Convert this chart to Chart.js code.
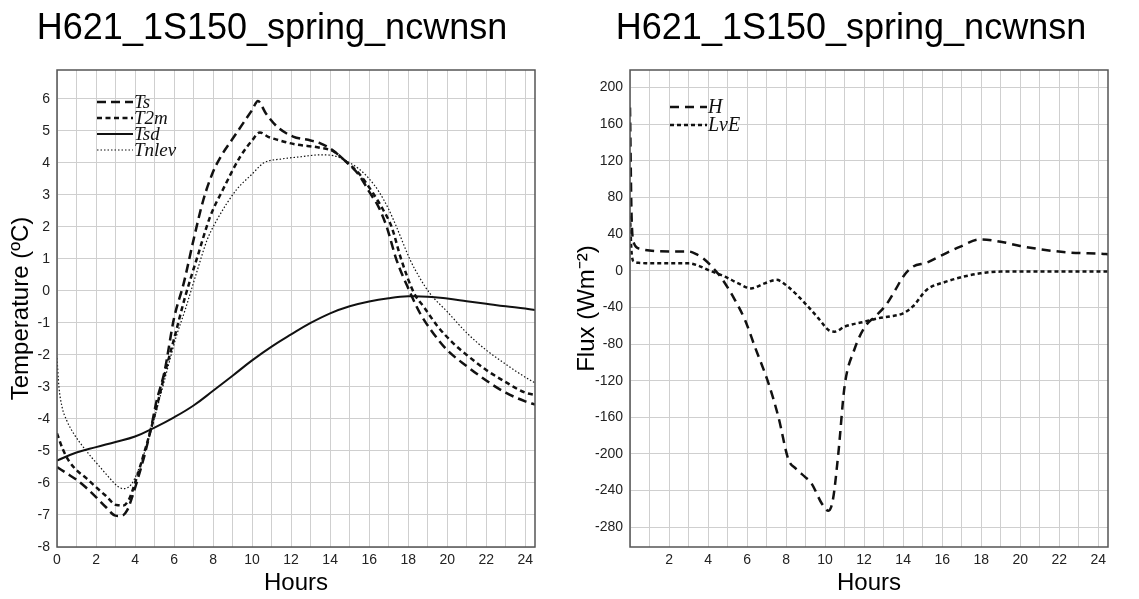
<!DOCTYPE html>
<html>
<head>
<meta charset="utf-8">
<script src="https://cdn.jsdelivr.net/npm/chart.js@4.4.1/dist/chart.umd.min.js"></script>
<style>
    html, body { margin: 0; padding: 0; background: #fff; }
    body { width: 1139px; height: 599px; position: relative; overflow: hidden; }
    #leftBox { position: absolute; left: 0; top: 0; width: 544px; height: 599px; }
    #rightBox { position: absolute; left: 563px; top: 0; width: 576px; height: 599px; }
</style>
</head>
<body>
<div id="leftBox"><canvas id="tempChart" width="544" height="599"></canvas></div>
<div id="rightBox"><canvas id="fluxChart" width="576" height="599"></canvas></div>

<script>
// 1. DATA (hours / values)
const chartTitle = 'H621_1S150_spring_ncwnsn';

const tsHours = [0, 0.5, 1, 1.5, 2, 2.5, 3, 3.3, 3.6, 3.9, 4.2, 4.5, 4.8, 5.1, 5.5, 6, 6.5, 7, 7.5, 8, 8.4, 9, 9.5, 10, 10.3, 10.7, 11.3, 12.1, 13, 13.5, 14, 14.7, 15.5, 16, 16.5, 16.9, 17.4, 18.1, 18.6, 19.2, 20, 21, 22, 23, 24, 24.5];
const tsTemp  = [-5.5, -5.7, -5.9, -6.15, -6.44, -6.75, -7.02, -7.03, -6.85, -6.35, -5.75, -5.1, -4.34, -3.45, -2.55, -0.85, 0.25, 1.6, 2.84, 3.72, 4.2, 4.75, 5.2, 5.65, 5.93, 5.55, 5.12, 4.82, 4.7, 4.61, 4.45, 4.1, 3.6, 3.1, 2.6, 2.0, 0.97, -0.05, -0.69, -1.25, -1.85, -2.35, -2.8, -3.18, -3.45, -3.55];

const t2mHours = [0, 0.3, 0.6, 1, 1.5, 2, 2.5, 3.05, 3.4, 3.7, 4.0, 4.4, 4.8, 5.2, 5.6, 6.0, 6.57, 7.2, 7.85, 8.5, 9.4, 10.0, 10.4, 10.8, 11.3, 12.2, 13.5, 14.2, 14.7, 15.5, 16.2, 16.7, 17.15, 17.65, 18.3, 18.8, 19.5, 20.3, 21, 22, 23, 24, 24.5];
const t2mTemp  = [-4.45, -4.95, -5.3, -5.6, -5.85, -6.13, -6.4, -6.69, -6.7, -6.5, -6.0, -5.2, -4.35, -3.4, -2.4, -1.5, -0.18, 1.07, 2.32, 3.16, 4.2, 4.7, 4.95, 4.82, 4.72, 4.58, 4.47, 4.35, 4.1, 3.65, 3.05, 2.55, 2.0, 0.97, -0.07, -0.5, -1.1, -1.63, -2.0, -2.47, -2.85, -3.18, -3.25];

const tsdHours = [0, 1, 2, 3, 4, 5, 6, 7, 8, 9, 10, 11, 12, 13, 14, 15, 16, 17, 18, 19, 20, 21, 22, 23, 24, 24.5];
const tsdTemp  = [-5.3, -5.05, -4.88, -4.72, -4.55, -4.27, -3.95, -3.58, -3.12, -2.65, -2.17, -1.74, -1.36, -1.0, -0.7, -0.48, -0.33, -0.23, -0.17, -0.18, -0.24, -0.32, -0.4, -0.48, -0.55, -0.6];

const tnlevHours = [0, 0.1, 0.25, 0.5, 0.9, 1.35, 1.8, 2.2, 2.7, 3.1, 3.4, 3.8, 4.1, 4.4, 4.8, 5.2, 5.7, 6.1, 6.57, 7.2, 7.7, 8.2, 9.2, 10.0, 10.6, 11.5, 12.5, 13.5, 14.2, 14.7, 15.5, 16.0, 16.5, 17.0, 17.4, 18.1, 18.6, 19.1, 20, 21, 22, 22.7, 23.5, 24.4, 24.5];
const tnlevTemp  = [-2.1, -3.0, -3.6, -4.05, -4.5, -4.88, -5.22, -5.5, -5.85, -6.1, -6.18, -6.05, -5.7, -5.2, -4.4, -3.5, -2.35, -1.45, -0.59, 0.66, 1.6, 2.22, 3.16, 3.65, 4.0, 4.12, 4.19, 4.25, 4.22, 4.1, 3.8, 3.5, 3.1, 2.55, 2.0, 0.97, 0.4, -0.07, -0.65, -1.31, -1.85, -2.16, -2.5, -2.84, -2.87];

const hHours = [0, 0.08, 0.2, 0.5, 1, 2, 3, 3.4, 3.85, 4.3, 4.7, 5.38, 5.9, 6.4, 7.1, 7.6, 8.12, 8.5, 8.97, 9.3, 9.83, 10.17, 10.4, 10.68, 11.0, 11.5, 12.05, 12.56, 13.1, 13.6, 14.0, 14.5, 15.2, 16, 16.9, 17.95, 19, 20, 20.7, 22.4, 24.4, 24.5];
const hFlux  = [178, 60, 30, 24, 22, 21, 21, 18, 11.7, 2, -8.4, -32, -54, -83, -123, -159, -206, -216, -225, -232, -254, -262, -250, -199, -126, -86, -61, -50, -38, -21, -6.5, 4.4, 8.7, 17, 26, 34.2, 31.6, 27, 24.4, 20, 18.2, 18];

const lveHours = [0, 0.08, 0.2, 0.5, 1, 2, 3, 3.5, 4.0, 4.87, 5.55, 6.2, 6.9, 7.5, 8.1, 8.97, 9.66, 10.17, 10.5, 11, 12.05, 12.7, 13.3, 14.0, 14.5, 15.2, 16.2, 17.1, 17.95, 19, 20, 22, 24.5];
const lveFlux  = [60, 20, 10, 8.5, 8, 8, 8, 5.5, 0.8, -6.5, -13.8, -19.3, -13.8, -10, -17.5, -35.6, -52, -64.7, -66.5, -61, -55.6, -52, -50, -46.5, -39, -21, -12, -6.5, -2.9, -1, -1, -1, -1];

// tick values
const hourGrid   = [0, 1, 2, 3, 4, 5, 6, 7, 8, 9, 10, 11, 12, 13, 14, 15, 16, 17, 18, 19, 20, 21, 22, 23, 24];
const hourLabelsTemp = [0, 2, 4, 6, 8, 10, 12, 14, 16, 18, 20, 22, 24];
const hourLabelsFlux = [2, 4, 6, 8, 10, 12, 14, 16, 18, 20, 22, 24];
const tempTicks  = [-8, -7, -6, -5, -4, -3, -2, -1, 0, 1, 2, 3, 4, 5, 6];
const fluxTicks  = [-280, -240, -200, -160, -120, -80, -40, 0, 40, 80, 120, 160, 200];

// 2. HELPERS
const sans = "'Liberation Sans', Arial, Helvetica, sans-serif";
const pts = (xs, ys) => xs.map((x, i) => ({ x: x, y: ys[i] }));

function line(label, xs, ys, dash, width, smooth) {
    return {
        label: label,
        data: pts(xs, ys),
        borderColor: '#111',
        borderWidth: width,
        borderDash: dash,
        borderCapStyle: 'butt',
        pointRadius: 0,
        fill: false,
        tension: 0.4,
        cubicInterpolationMode: smooth ? 'default' : 'monotone'
    };
}

// frame round the plot area
const frameBox = {
    id: 'frameBox',
    afterDatasetsDraw(chart) {
        const { ctx, chartArea: a } = chart;
        ctx.save();
        ctx.strokeStyle = '#555';
        ctx.lineWidth = 1.5;
        ctx.strokeRect(a.left, a.top, a.right - a.left, a.bottom - a.top);
        ctx.restore();
    }
};

// legend drawn inside the plot (line sample + italic serif label)
const lineKey = {
    id: 'lineKey',
    afterDraw(chart, args, opts) {
        const { ctx, chartArea: a } = chart;
        ctx.save();
        chart.data.datasets.forEach((ds, i) => {
            const y = a.top + opts.y + i * opts.gap;
            const x0 = a.left + opts.x;
            ctx.beginPath();
            ctx.setLineDash(ds.borderDash || []);
            ctx.lineWidth = ds.borderWidth;
            ctx.strokeStyle = ds.borderColor;
            ctx.moveTo(x0, y);
            ctx.lineTo(x0 + opts.len, y);
            ctx.stroke();
            ctx.setLineDash([]);
            ctx.fillStyle = '#111';
            ctx.font = 'italic ' + opts.size + "px 'Liberation Serif', 'Times New Roman', serif";
            ctx.textBaseline = 'middle';
            ctx.textAlign = 'left';
            ctx.fillText(ds.label, x0 + opts.len + 1, y + 1);
        });
        ctx.restore();
    }
};

function makeChart(id, cfg) {
    const ctx = document.getElementById(id).getContext('2d');
    return new Chart(ctx, {
        type: 'line',
        data: { datasets: cfg.datasets },
        plugins: [frameBox, lineKey],
        options: {
            responsive: false,
            animation: false,
            layout: { padding: 0 },
            plugins: {
                legend: { display: false },
                tooltip: { enabled: false },
                title: {
                    display: true,
                    text: chartTitle,
                    color: '#000',
                    font: { family: sans, size: 36, weight: 'normal', lineHeight: 1.2 },
                    padding: { top: 7, bottom: 19.8 }
                },
                lineKey: cfg.key
            },
            scales: {
                x: {
                    type: 'linear',
                    min: 0,
                    max: 24.5,
                    afterBuildTicks: s => { s.ticks = hourGrid.map(v => ({ value: v })); },
                    afterFit: s => { s.height = 52; },
                    ticks: {
                        autoSkip: false,
                        maxRotation: 0,
                        padding: 5,
                        color: '#222',
                        font: { family: sans, size: 14 },
                        callback: v => cfg.hourLabels.includes(v) ? String(v) : ''
                    },
                    grid: { color: '#cfcfcf', lineWidth: 1, drawTicks: false },
                    border: { display: false },
                    title: {
                        display: true,
                        text: 'Hours',
                        color: '#000',
                        font: { family: sans, size: 24, lineHeight: 1.2 },
                        padding: { top: 0, bottom: 1 }
                    }
                },
                y: {
                    type: 'linear',
                    position: 'left',
                    min: cfg.yMin,
                    max: cfg.yMax,
                    afterBuildTicks: s => { s.ticks = cfg.yTicks.map(v => ({ value: v })); },
                    afterFit: s => { s.width = cfg.yWidth; },
                    ticks: {
                        padding: 7,
                        color: '#222',
                        font: { family: sans, size: 14 }
                    },
                    grid: { color: '#cfcfcf', lineWidth: 1, drawTicks: false },
                    border: { display: false },
                    title: {
                        display: true,
                        text: cfg.yTitle,
                        color: '#000',
                        font: { family: sans, size: 24, lineHeight: 1.2 },
                        padding: { top: cfg.yTitlePad, bottom: 0 }
                    }
                },
                // empty right-hand box: keeps the plot off the right edge
                pad: {
                    type: 'linear',
                    position: 'right',
                    display: true,
                    afterFit: s => { s.width = cfg.rightGap; },
                    ticks: { display: false },
                    grid: { display: false },
                    border: { display: false }
                }
            }
        }
    });
}

// 3. TEMPERATURE CHART
makeChart('tempChart', {
    datasets: [
        line('Ts', tsHours, tsTemp, [9, 5], 2.5),
        line('T2m', t2mHours, t2mTemp, [5, 3.5], 2.5),
        line('Tsd', tsdHours, tsdTemp, [], 2, true),
        line('Tnlev', tnlevHours, tnlevTemp, [1.5, 2], 1.2)
    ],
    hourLabels: hourLabelsTemp,
    yMin: -8, yMax: 6.9, yTicks: tempTicks,
    yWidth: 57, rightGap: 9,
    yTitle: 'Temperature (\u00baC)', yTitlePad: 6.6,
    key: { x: 40, y: 32, gap: 16, len: 36, size: 19 }
});

// 4. FLUX CHART
makeChart('fluxChart', {
    datasets: [
        line('H', hHours, hFlux, [9, 6], 2.5),
        line('LvE', lveHours, lveFlux, [4, 3], 2.5)
    ],
    hourLabels: hourLabelsFlux,
    yMin: -301.5, yMax: 219, yTicks: fluxTicks,
    yWidth: 67, rightGap: 31,
    yTitle: 'Flux (Wm\u207b\u00b2)', yTitlePad: 9.6,
    key: { x: 40, y: 37, gap: 18, len: 37, size: 20 }
});
</script>
</body>
</html>
